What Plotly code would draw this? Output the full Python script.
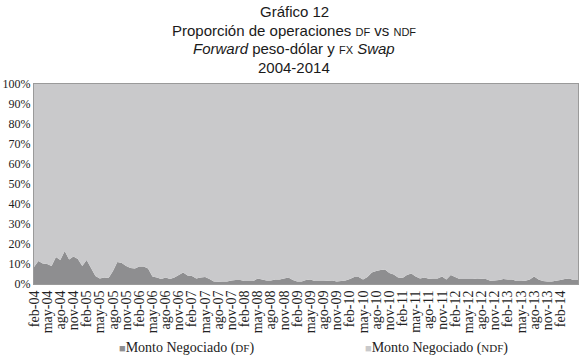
import plotly.graph_objects as go

months_es = ["ene", "feb", "mar", "abr", "may", "jun", "jul", "ago", "sep", "oct", "nov", "dic"]

# Monthly periods feb-04 .. jun-14
periods = []
m, y = 1, 2004  # index 1 -> feb
while True:
    periods.append(f"{months_es[m]}-{str(y)[2:]}")
    if m == 5 and y == 2014:
        break
    m += 1
    if m == 12:
        m = 0
        y += 1

df_share = [8.5, 11.5, 10.2, 10.0, 9.0, 13.5, 12.0, 16.5, 12.2, 13.7,
            12.5, 9.0, 12.0, 8.0, 4.0, 2.8, 3.2, 3.0, 6.5, 11.0,
            10.5, 9.0, 8.0, 7.7, 8.7, 8.7, 7.7, 3.7, 3.2, 2.5,
            3.3, 2.5, 3.3, 4.5, 5.8, 4.2, 4.0, 2.8, 3.3, 3.5,
            2.5, 1.2, 1.1, 1.2, 1.2, 1.7, 2.0, 2.0, 1.5, 1.5,
            1.5, 2.8, 2.2, 1.7, 1.8, 2.2, 2.2, 2.8, 3.3, 2.0,
            1.3, 1.2, 2.0, 2.2, 1.5, 1.5, 1.5, 1.6, 1.7, 1.2,
            1.5, 1.7, 2.5, 3.5, 3.5, 2.3, 3.5, 5.8, 6.5, 7.0,
            7.3, 5.5, 4.8, 3.2, 3.0, 4.5, 5.2, 3.8, 2.8, 3.3,
            2.6, 2.8, 2.7, 3.7, 2.3, 4.5, 3.5, 2.5, 2.5, 2.5,
            2.5, 2.8, 2.6, 2.5, 1.6, 1.7, 2.0, 2.5, 2.3, 2.2,
            1.5, 1.5, 1.6, 2.3, 3.7, 2.3, 1.5, 1.3, 1.2, 1.6,
            2.0, 2.5, 2.8, 2.0, 2.0]
ndf_share = [round(100 - v, 1) for v in df_share]

series_names = ["Monto Negociado (<span style='font-size:11px'>DF</span>)",
                "Monto Negociado (<span style='font-size:11px'>NDF</span>)"]
series_colors = ["#8e8e90", "#c9c9cb"]

idx = list(range(len(periods)))
tick_idx = idx[::3]
tick_labels = [periods[i] for i in tick_idx]

fig = go.Figure()
for vals, name, col in zip([df_share, ndf_share], series_names, series_colors):
    fig.add_trace(go.Scatter(
        x=idx, y=vals, stackgroup="one", mode="none",
        fillcolor=col, name=name, showlegend=False))

title_font = dict(family="Liberation Sans, Arial", size=15, color="#1a1a1a")
lines = [
    ("Gráfico 12", 1.365),
    ("Proporción de operaciones <span style='font-size:11px'>DF</span> vs <span style='font-size:11px'>NDF</span>", 1.27),
    ("<i>Forward</i> peso-dólar y <span style='font-size:11px'>FX</span> <i>Swap</i>", 1.175),
    ("2004-2014", 1.08),
]
annotations = [dict(text=t, x=0.478, y=yy, xref="paper", yref="paper",
                    showarrow=False, font=title_font, xanchor="center", yanchor="middle")
               for t, yy in lines]

# legend drawn as text entries (small square + label), like the original
leg_font = dict(family="Liberation Serif, Times New Roman", size=14, color="#222")
for name, col, xp in zip(series_names, series_colors, [0.152, 0.604]):
    annotations.append(dict(
        text=f"<span style='color:{col};font-size:11px'>■</span>{name}",
        x=xp, y=-0.32, xref="paper", yref="paper", showarrow=False,
        xanchor="left", yanchor="middle", font=leg_font))

fig.update_layout(
    width=580, height=358,
    margin=dict(l=34, r=2, t=84, b=74, autoexpand=False),
    paper_bgcolor="white", plot_bgcolor="white",
    showlegend=False,
    annotations=annotations,
    xaxis=dict(range=[0, len(idx) - 1], tickmode="array", tickvals=tick_idx,
               ticktext=tick_labels, tickangle=-90, showgrid=False, zeroline=False,
               automargin=False,
               tickfont=dict(family="Liberation Serif, Times New Roman", size=14, color="#222"),
               showline=True, linecolor="#9a9a9a", linewidth=1, mirror=True, ticks=""),
    yaxis=dict(range=[0, 100], dtick=10, ticksuffix="%", showgrid=False, zeroline=False,
               automargin=False,
               tickfont=dict(family="Liberation Serif, Times New Roman", size=12, color="#222"),
               showline=True, linecolor="#9a9a9a", linewidth=1, mirror=True, ticks=""),
)

fig.write_html("out.html", config={"displayModeBar": False},
               post_script="document.body.style.margin='0';")
